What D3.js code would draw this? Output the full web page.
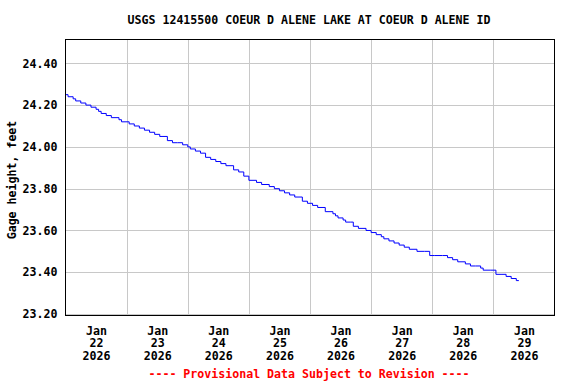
<!DOCTYPE html>
<html><head><meta charset="utf-8">
<script src="https://cdn.jsdelivr.net/npm/d3@7"></script>
<style>
body{margin:0;background:#fff;}
text{font-family:"DejaVu Sans Mono",monospace;font-weight:bold;}
</style></head>
<body><svg id="c" width="576" height="384"></svg>
<script>
// Data: hours since 2026-01-22 00:00, gage height in feet
const hours = [0,1,3,4,6,8,10,12,13,14,16,18,21,22,25,27,29,31,33,35,37,40,42,44,46,48,49,51,53,55,57,59,61,63,66,68,70,72,75,77,80,82,84,86,88,90,93,95,97,99,102,105,106,107,109,110,112,113,115,118,120,122,124,125,127,129,131,133,135,138,141,143,145,148,150,152,154,157,159,161,163,164,167,169,171,173,175,177,178];
const values = [24.25,24.24,24.23,24.22,24.21,24.20,24.19,24.18,24.17,24.16,24.15,24.14,24.13,24.12,24.11,24.10,24.09,24.08,24.07,24.06,24.05,24.03,24.02,24.02,24.01,24.00,23.99,23.98,23.97,23.95,23.94,23.93,23.92,23.91,23.89,23.88,23.86,23.84,23.83,23.82,23.81,23.80,23.79,23.78,23.77,23.76,23.74,23.73,23.72,23.71,23.69,23.68,23.67,23.66,23.65,23.64,23.64,23.62,23.61,23.60,23.59,23.58,23.57,23.56,23.55,23.54,23.53,23.52,23.51,23.50,23.50,23.48,23.48,23.48,23.47,23.46,23.45,23.44,23.43,23.43,23.42,23.41,23.41,23.39,23.39,23.38,23.37,23.36,23.36];
const yTicks = [23.20,23.40,23.60,23.80,24.00,24.20,24.40];
const dayLabels = [["Jan","22","2026"],["Jan","23","2026"],["Jan","24","2026"],["Jan","25","2026"],["Jan","26","2026"],["Jan","27","2026"],["Jan","28","2026"],["Jan","29","2026"]];
const title = "USGS 12415500 COEUR D ALENE LAKE AT COEUR D ALENE ID";
const yLabel = "Gage height, feet";
const footer = "---- Provisional Data Subject to Revision ----";

const t0 = new Date(2026,0,22,0,0);
const t1 = new Date(2026,0,30,0,0);
const H = 3600*1000;
const data = hours.map((h,i)=>({t:new Date(t0.getTime()+h*H), v:values[i]}));

const L=65.5,R=554.5,T=39.5,B=315.5;
const svg = d3.select("#c");
const x = d3.scaleTime().domain([t0,t1]).range([L,R]);
const y = d3.scaleLinear().domain([23.193,24.514]).range([B,T]);

// grid
const midnights = d3.range(1,8).map(d=>new Date(t0.getTime()+d*24*H));
svg.append("g").selectAll("line").data(midnights).join("line")
  .attr("x1",d=>Math.round(x(d))+0.5).attr("x2",d=>Math.round(x(d))+0.5)
  .attr("y1",T).attr("y2",B).attr("stroke","#c8c8c8");
svg.append("g").selectAll("line").data(yTicks).join("line")
  .attr("y1",d=>Math.round(y(d))+0.5).attr("y2",d=>Math.round(y(d))+0.5)
  .attr("x1",L).attr("x2",R).attr("stroke","#c8c8c8");

// line
const line = d3.line().x(d=>x(d.t)).y(d=>y(d.v)).curve(d3.curveStepAfter);
svg.append("path").datum(data).attr("d",line).attr("fill","none")
  .attr("stroke","#0000ff").attr("stroke-width",1);

// frame
svg.append("rect").attr("x",L).attr("y",T).attr("width",R-L).attr("height",B-T)
  .attr("fill","none").attr("stroke","#000");

// y axis labels
const ya = svg.append("g").attr("transform",`translate(${L},0)`)
  .call(d3.axisLeft(y).tickValues(yTicks).tickFormat(d3.format(".2f")).tickSize(0).tickPadding(8));
ya.select(".domain").remove();
ya.selectAll("text").attr("font-size","11.6px").attr("fill","#000")
  .attr("font-family","DejaVu Sans Mono").attr("font-weight","bold");

// x axis labels at noon
const noons = d3.range(0,8).map(d=>new Date(t0.getTime()+(d*24+12)*H));
const xa = svg.append("g").attr("transform",`translate(0,${B})`)
  .call(d3.axisBottom(x).tickValues(noons).tickSize(0).tickFormat(""));
xa.select(".domain").remove();
xa.selectAll(".tick").each(function(d,i){
  const g=d3.select(this);
  const tx=g.append("text").attr("text-anchor","middle").attr("fill","#000")
    .attr("font-size","11.6px");
  dayLabels[i].forEach((s,k)=>tx.append("tspan").attr("x",0).attr("y",19+k*12.8).text(s));
});

svg.append("text").attr("x",309).attr("y",24).attr("text-anchor","middle")
  .attr("font-size","11.6px").attr("fill","#000").text(title);
svg.append("text").attr("transform","translate(16,180) rotate(-90)").attr("text-anchor","middle")
  .attr("font-size","11.6px").attr("fill","#000").text(yLabel);
svg.append("text").attr("x",309).attr("y",378).attr("text-anchor","middle")
  .attr("font-size","11.6px").attr("fill","#ff0000").text(footer);
</script></body></html>
